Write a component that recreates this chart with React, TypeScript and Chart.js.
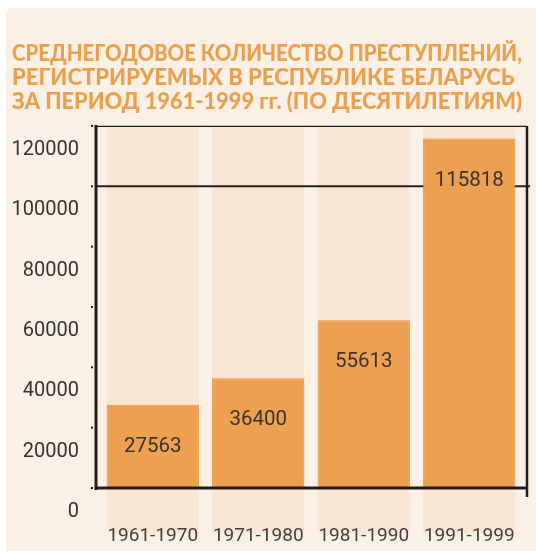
import React, { useEffect, useRef } from 'react';
import { Chart, registerables } from 'chart.js';

Chart.register(...registerables);

const categories = ['1961-1970', '1971-1980', '1981-1990', '1991-1999'];
const crimeValues = [27563, 36400, 55613, 115818];
const backdropRange: [number, number] = [-15000, 120000];
const referenceLineValue = 100000;
const yMin = 0;
const yMax = 120000;
const yStep = 20000;
const titleLines = [
  'СРЕДНЕГОДОВОЕ КОЛИЧЕСТВО ПРЕСТУПЛЕНИЙ,',
  'РЕГИСТРИРУЕМЫХ В РЕСПУБЛИКЕ БЕЛАРУСЬ',
  'ЗА ПЕРИОД 1961-1999 гг. (ПО ДЕСЯТИЛЕТИЯМ)',
];

const NUM_FONT = "'Roboto', sans-serif";

const framePlugin = {
  id: 'frame',
  beforeDatasetDraw(chart: any, args: any) {
    if (args.index !== 0) return;
    const { ctx, chartArea, scales } = chart;
    const y = scales.y.getPixelForValue(referenceLineValue);
    ctx.save();
    ctx.strokeStyle = '#2a2222';
    ctx.lineWidth = 2;
    ctx.beginPath();
    ctx.moveTo(chartArea.left - 4, y);
    ctx.lineTo(chartArea.right + 8, y);
    ctx.stroke();
    ctx.restore();
  },
  afterDatasetsDraw(chart: any) {
    const { ctx, chartArea, scales } = chart;
    const L = chartArea.left - 4;
    const R = chartArea.right + 5;
    const T = chartArea.top;
    const B = chartArea.bottom;
    ctx.save();
    ctx.strokeStyle = '#231c1c';
    ctx.lineWidth = 1.2;
    ctx.beginPath();
    ctx.moveTo(L, T + 0.5);
    ctx.lineTo(R, T + 0.5);
    ctx.stroke();
    ctx.lineWidth = 2.5;
    ctx.beginPath();
    ctx.moveTo(R, T);
    ctx.lineTo(R, B + 9);
    ctx.stroke();
    ctx.lineWidth = 3;
    ctx.beginPath();
    ctx.moveTo(L, T - 1);
    ctx.lineTo(L, B + 2);
    ctx.stroke();
    ctx.beginPath();
    ctx.moveTo(L, B);
    ctx.lineTo(R, B);
    ctx.stroke();
    ctx.fillStyle = '#231c1c';
    for (let v = yMin; v <= yMax; v += yStep) {
      const py = scales.y.getPixelForValue(v);
      ctx.fillRect(L - 5, py - 1, 2, 2);
    }
    const meta = chart.getDatasetMeta(0);
    ctx.fillStyle = '#3a3232';
    ctx.font = `20.5px ${NUM_FONT}`;
    ctx.textAlign = 'center';
    ctx.textBaseline = 'middle';
    meta.data.forEach((bar: any, i: number) => {
      ctx.fillText(String(crimeValues[i]), bar.x, bar.y + 42);
    });
    ctx.restore();
  },
};

export default function App() {
  const ref = useRef<HTMLCanvasElement | null>(null);
  useEffect(() => {
    if (!ref.current) return;
    const chart = new Chart(ref.current, {
      type: 'bar',
      data: {
        labels: categories,
        datasets: [
          {
            label: 'values',
            data: crimeValues,
            backgroundColor: '#EDA050',
            borderColor: '#E2953F',
            borderWidth: 1,
            grouped: false,
            order: 1,
            barPercentage: 0.875,
            categoryPercentage: 1,
          } as any,
          {
            label: 'backdrop',
            data: categories.map(() => backdropRange),
            backgroundColor: '#F8E5D3',
            borderWidth: 0,
            grouped: false,
            order: 2,
            clip: false,
            barPercentage: 0.875,
            categoryPercentage: 1,
          } as any,
        ],
      },
      options: {
        animation: false,
        responsive: false,
        maintainAspectRatio: false,
        layout: { padding: { left: 6, right: 14, top: 0, bottom: 0 } },
        plugins: {
          legend: { display: false },
          tooltip: { enabled: false },
          title: {
            display: true,
            text: titleLines,
            align: 'start',
            color: '#EBA04E',
            font: { family: "'Lato', 'Roboto', sans-serif", weight: '900', size: 22, lineHeight: 1.09 },
            padding: { top: 34, bottom: 12 },
          },
        },
        scales: {
          x: {
            grid: { display: true, drawOnChartArea: false, drawTicks: true, tickLength: 37, color: 'rgba(0,0,0,0)' },
            border: { display: false },
            ticks: {
              z: 1,
              color: '#463d3d',
              font: { family: NUM_FONT, size: 19 },
              padding: 0,
            },
            afterFit: (s: any) => {
              s.height = 63;
            },
          },
          y: {
            min: yMin,
            max: yMax,
            grid: { display: true, drawOnChartArea: false, drawTicks: true, tickLength: 21, color: 'rgba(0,0,0,0)' },
            border: { display: false },
            ticks: {
              stepSize: yStep,
              color: '#3a3232',
              font: { family: NUM_FONT, size: 20 },
              padding: 0,
              labelOffset: 24,
              callback: (v: any) => String(v),
            },
            afterFit: (s: any) => {
              s.width = 88;
            },
          },
        },
      },
      plugins: [framePlugin],
    });
    return () => chart.destroy();
  }, []);

  return (
    <div
      style={{
        position: 'absolute',
        left: 6,
        top: 8,
        width: 530,
        height: 543,
        background: '#FAF0E6',
        borderTopLeftRadius: 6,
      }}
    >
      <canvas ref={ref} width={530} height={543} style={{ display: 'block' }} />
    </div>
  );
}
